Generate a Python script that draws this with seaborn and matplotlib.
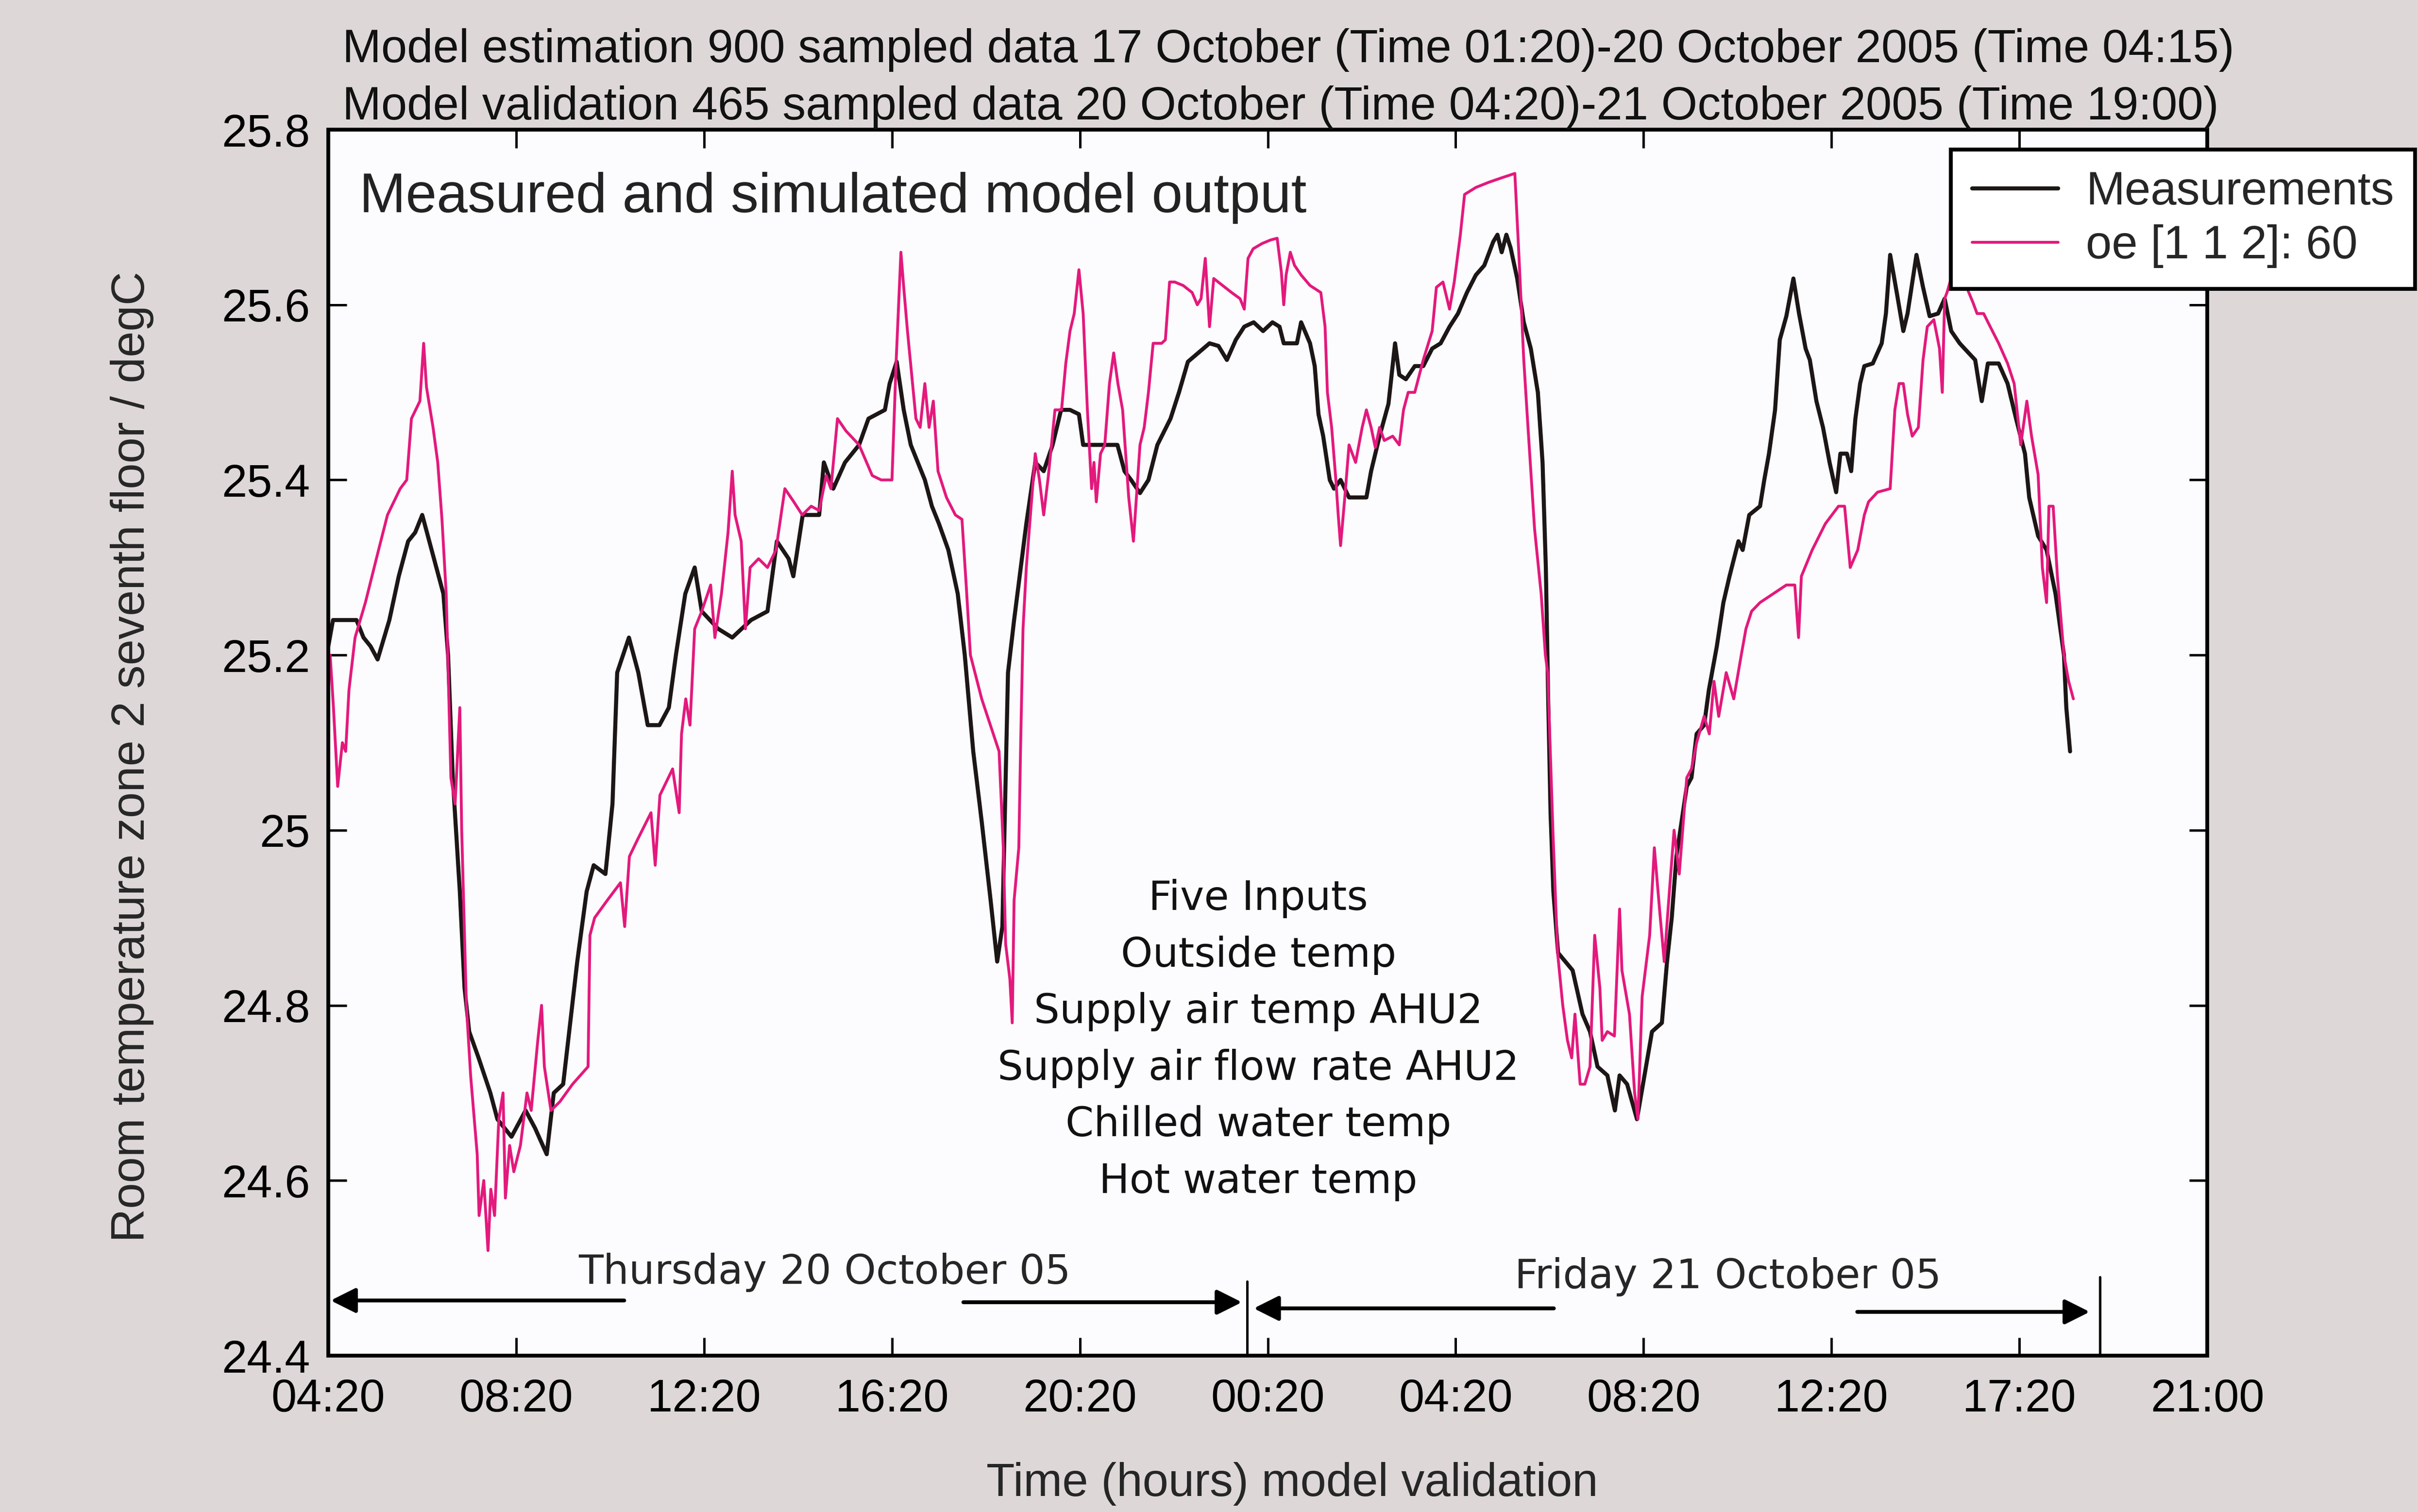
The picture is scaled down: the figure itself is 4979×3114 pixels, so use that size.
import matplotlib
matplotlib.use("Agg")
import matplotlib.pyplot as plt
import pandas as pd
import seaborn as sns

# ---------------- data (hours since 04:20 on 20 Oct, temperature degC) ----------------
meas_t = [0.0, 0.1, 0.3, 0.6, 0.75, 0.9, 1.05, 1.3, 1.5, 1.7, 1.85, 2.0, 2.15, 2.3, 2.45, 2.55, 2.65, 2.8,
          2.9, 3.0, 3.2, 3.45, 3.6, 3.75, 3.9, 4.2, 4.4, 4.65, 4.8, 5.0, 5.15, 5.3, 5.5, 5.65, 5.9, 6.05,
          6.15, 6.4, 6.6, 6.8, 7.05, 7.25, 7.4, 7.6, 7.8, 7.95, 8.3, 8.6, 9.0, 9.35, 9.55, 9.8, 9.9, 10.1,
          10.45, 10.55, 10.75, 11.0, 11.3, 11.5, 11.85, 11.95, 12.1, 12.25, 12.4, 12.7, 12.85, 13.0, 13.2,
          13.4, 13.55, 13.73, 13.91, 14.1, 14.24, 14.35, 14.47, 14.6, 14.86, 15.05, 15.23, 15.42, 15.6,
          15.79, 15.98, 16.07, 16.25, 16.8, 16.95, 17.09, 17.28, 17.46, 17.65, 17.93, 18.11, 18.3, 18.76,
          18.95, 19.13, 19.32, 19.5, 19.7, 19.9, 20.1, 20.25, 20.34, 20.62, 20.71, 20.9, 21.0, 21.08, 21.18,
          21.32, 21.41, 21.55, 21.73, 22.1, 22.2, 22.38, 22.57, 22.71, 22.8, 22.94, 23.13, 23.31, 23.5,
          23.68, 23.87, 24.05, 24.24, 24.43, 24.61, 24.8, 24.89, 24.98, 25.08, 25.17, 25.31, 25.45, 25.6,
          25.75, 25.85, 25.92, 25.97, 26.02, 26.08, 26.18, 26.49, 26.7, 26.86, 27.02, 27.23, 27.39, 27.49,
          27.65, 27.86, 28.02, 28.18, 28.39, 28.5, 28.6, 28.7, 28.81, 28.92, 29.02, 29.13, 29.29, 29.39,
          29.56, 29.7, 29.83, 30.02, 30.11, 30.25, 30.48, 30.57, 30.67, 30.8, 30.9, 31.04, 31.19, 31.31,
          31.45, 31.54, 31.68, 31.82, 31.96, 32.1, 32.19, 32.33, 32.42, 32.51, 32.61, 32.7, 32.88, 33.07,
          33.16, 33.25, 33.39, 33.53, 33.62, 33.81, 33.95, 34.09, 34.27, 34.41, 34.55, 34.73, 34.92, 35.06,
          35.2, 35.33, 35.56, 35.75, 35.93, 36.12, 36.21, 36.4, 36.58, 36.77, 36.95, 37.0, 37.08]
meas_v = [25.21, 25.24, 25.24, 25.24, 25.22, 25.21, 25.195, 25.24, 25.29, 25.33, 25.34, 25.36, 25.33, 25.30,
          25.27, 25.2, 25.06, 24.93, 24.82, 24.77, 24.74, 24.70, 24.67, 24.66, 24.65, 24.68, 24.66, 24.63,
          24.70, 24.71, 24.78, 24.85, 24.93, 24.96, 24.95, 25.03, 25.18, 25.22, 25.18, 25.12, 25.12, 25.14,
          25.2, 25.27, 25.30, 25.25, 25.23, 25.22, 25.24, 25.25, 25.33, 25.31, 25.29, 25.36, 25.36, 25.42,
          25.39, 25.42, 25.44, 25.47, 25.48, 25.51, 25.535, 25.48, 25.44, 25.40, 25.37, 25.35, 25.32, 25.27,
          25.2, 25.09, 25.01, 24.92, 24.85, 24.89, 25.18, 25.24, 25.35, 25.42, 25.41, 25.44, 25.48, 25.48,
          25.475, 25.44, 25.44, 25.44, 25.41, 25.40, 25.385, 25.40, 25.44, 25.47, 25.50, 25.535, 25.556,
          25.553, 25.537, 25.56, 25.575, 25.58, 25.57, 25.58, 25.575, 25.556, 25.556, 25.58, 25.556, 25.53,
          25.475, 25.45, 25.40, 25.39, 25.40, 25.38, 25.38, 25.41, 25.45, 25.487, 25.556, 25.52, 25.515,
          25.53, 25.53, 25.55, 25.556, 25.575, 25.59, 25.614, 25.634, 25.645, 25.672, 25.68, 25.66, 25.68,
          25.665, 25.63, 25.58, 25.55, 25.5, 25.42, 25.3, 25.15, 25.02, 24.93, 24.86, 24.84, 24.79, 24.77,
          24.73, 24.72, 24.68, 24.72, 24.71, 24.67, 24.72, 24.77, 24.78, 24.85, 24.9, 24.97, 25.01, 25.05,
          25.06, 25.11, 25.12, 25.16, 25.21, 25.26, 25.29, 25.33, 25.32, 25.36, 25.37, 25.40, 25.43, 25.48,
          25.56, 25.587, 25.63, 25.59, 25.55, 25.537, 25.49, 25.46, 25.42, 25.386, 25.43, 25.43, 25.41,
          25.47, 25.51, 25.53, 25.533, 25.556, 25.59, 25.657, 25.614, 25.57, 25.59, 25.657, 25.62, 25.587,
          25.59, 25.607, 25.57, 25.556, 25.545, 25.537, 25.49, 25.533, 25.533, 25.51, 25.47, 25.43, 25.38,
          25.336, 25.32, 25.27, 25.2, 25.14, 25.09]

model_t = [0.0, 0.04, 0.11, 0.2, 0.3, 0.37, 0.44, 0.57, 0.79, 1.07, 1.26, 1.53, 1.67, 1.77, 1.95, 2.03, 2.09,
           2.23, 2.33, 2.42, 2.51, 2.61, 2.7, 2.8, 2.84, 2.94, 3.03, 3.17, 3.21, 3.31, 3.4, 3.46, 3.54, 3.63,
           3.72, 3.77, 3.86, 3.95, 4.09, 4.23, 4.32, 4.46, 4.54, 4.6, 4.74, 4.93, 5.2, 5.53, 5.57, 5.67, 5.94,
           6.22, 6.31, 6.41, 6.59, 6.87, 6.96, 7.06, 7.33, 7.47, 7.52, 7.61, 7.7, 7.8, 7.95, 8.14, 8.23, 8.37,
           8.51, 8.6, 8.66, 8.79, 8.88, 8.98, 9.16, 9.35, 9.53, 9.72, 9.91, 10.09, 10.28, 10.45, 10.6, 10.7,
           10.84, 11.02, 11.3, 11.58, 11.77, 12.0, 12.09, 12.19, 12.25, 12.33, 12.42, 12.51, 12.6, 12.7, 12.79,
           12.88, 12.98, 13.16, 13.35, 13.49, 13.58, 13.67, 13.91, 14.28, 14.37, 14.42, 14.51, 14.56, 14.6,
           14.7, 14.74, 14.79, 14.86, 15.05, 15.14, 15.23, 15.33, 15.47, 15.61, 15.7, 15.79, 15.88, 15.98,
           16.07, 16.16, 16.25, 16.3, 16.35, 16.44, 16.53, 16.63, 16.72, 16.81, 16.91, 17.04, 17.14, 17.28,
           17.37, 17.46, 17.56, 17.74, 17.82, 17.91, 18.02, 18.2, 18.39, 18.5, 18.58, 18.67, 18.76, 18.85,
           19.04, 19.23, 19.41, 19.5, 19.58, 19.69, 19.88, 20.06, 20.2, 20.29, 20.34, 20.39, 20.48, 20.57,
           20.71, 20.9, 21.13, 21.22, 21.27, 21.36, 21.45, 21.5, 21.55, 21.64, 21.73, 21.87, 22.01, 22.1,
           22.2, 22.29, 22.38, 22.48, 22.66, 22.8, 22.89, 22.99, 23.13, 23.31, 23.5, 23.59, 23.73, 23.87,
           23.97, 24.1, 24.19, 24.43, 24.71, 24.98, 25.26, 25.35, 25.45, 25.54, 25.68, 25.82, 25.91, 25.96,
           26.07, 26.17, 26.28, 26.38, 26.47, 26.54, 26.65, 26.75, 26.86, 26.96, 27.07, 27.12, 27.23, 27.38,
           27.49, 27.54, 27.7, 27.81, 27.88, 27.97, 28.13, 28.23, 28.34, 28.44, 28.55, 28.65, 28.76, 28.92,
           29.02, 29.13, 29.29, 29.4, 29.5, 29.6, 29.76, 29.92, 30.08, 30.18, 30.3, 30.48, 30.76, 31.04,
           31.22, 31.3, 31.36, 31.59, 31.87, 32.15, 32.28, 32.4, 32.56, 32.7, 32.79, 32.98, 33.25, 33.35,
           33.44, 33.53, 33.62, 33.72, 33.85, 33.95, 34.04, 34.18, 34.3, 34.36, 34.41, 34.46, 34.6, 34.8,
           35.01, 35.1, 35.24, 35.38, 35.56, 35.75, 35.89, 36.03, 36.16, 36.26, 36.4, 36.49, 36.58, 36.63,
           36.72, 36.81, 36.95, 37.05, 37.15]
model_v = [25.2, 25.2, 25.14, 25.05, 25.1, 25.09, 25.16, 25.22, 25.26, 25.32, 25.36, 25.39, 25.4, 25.47, 25.49,
           25.556, 25.506, 25.46, 25.42, 25.355, 25.27, 25.06, 25.03, 25.14, 25.0, 24.8, 24.72, 24.63, 24.56,
           24.6, 24.52, 24.59, 24.56, 24.67, 24.7, 24.58, 24.64, 24.61, 24.64, 24.7, 24.68, 24.76, 24.8, 24.73,
           24.68, 24.69, 24.71, 24.73, 24.88, 24.9, 24.92, 24.94, 24.89, 24.97, 24.99, 25.02, 24.96, 25.04,
           25.07, 25.02, 25.11, 25.15, 25.12, 25.23, 25.25, 25.28, 25.22, 25.27, 25.34, 25.41, 25.36, 25.33,
           25.23, 25.3, 25.31, 25.3, 25.32, 25.39, 25.375, 25.36, 25.37, 25.365, 25.405, 25.39, 25.47, 25.456,
           25.44, 25.405, 25.4, 25.4, 25.537, 25.66, 25.62, 25.57, 25.52, 25.47, 25.46, 25.51, 25.46, 25.49,
           25.41, 25.38, 25.36, 25.355, 25.28, 25.2, 25.15, 25.09, 24.98, 24.87, 24.83, 24.78, 24.92, 24.98,
           25.1, 25.23, 25.3, 25.43, 25.4, 25.36, 25.405, 25.48, 25.48, 25.533, 25.57, 25.59, 25.64, 25.59,
           25.48, 25.39, 25.42, 25.375, 25.43, 25.44, 25.51, 25.545, 25.51, 25.48, 25.38, 25.33, 25.44, 25.46,
           25.5, 25.556, 25.556, 25.56, 25.626, 25.626, 25.622, 25.614, 25.6, 25.607, 25.653, 25.575, 25.63,
           25.622, 25.614, 25.607, 25.595, 25.653, 25.664, 25.67, 25.674, 25.676, 25.637, 25.6, 25.634, 25.66,
           25.645, 25.634, 25.622, 25.614, 25.575, 25.5, 25.46, 25.4, 25.36, 25.325, 25.38, 25.44, 25.42,
           25.46, 25.48, 25.46, 25.437, 25.46, 25.445, 25.45, 25.44, 25.48, 25.5, 25.5, 25.537, 25.57, 25.62,
           25.626, 25.595, 25.626, 25.68, 25.726, 25.734, 25.74, 25.745, 25.75, 25.653, 25.537, 25.46, 25.344,
           25.27, 25.2, 25.18, 25.0, 24.86, 24.8, 24.76, 24.74, 24.79, 24.71, 24.71, 24.73, 24.88, 24.82,
           24.76, 24.77, 24.765, 24.91, 24.84, 24.79, 24.7, 24.67, 24.81, 24.88, 24.98, 24.91, 24.85, 24.93,
           25.0, 24.95, 25.06, 25.07, 25.1, 25.13, 25.11, 25.17, 25.13, 25.18, 25.15, 25.2, 25.23, 25.25,
           25.26, 25.27, 25.28, 25.28, 25.22, 25.29, 25.32, 25.35, 25.37, 25.37, 25.3, 25.32, 25.36, 25.375,
           25.386, 25.39, 25.48, 25.51, 25.51, 25.475, 25.45, 25.46, 25.537, 25.575, 25.583, 25.55, 25.5,
           25.607, 25.614, 25.64, 25.63, 25.603, 25.59, 25.59, 25.575, 25.556, 25.533, 25.51, 25.44, 25.49,
           25.45, 25.406, 25.3, 25.26, 25.37, 25.37, 25.29, 25.2, 25.17, 25.15]

x_ticks = [0, 4, 8, 12, 16, 20, 24, 28, 32, 36, 40]
x_tick_labels = ["04:20", "08:20", "12:20", "16:20", "20:20", "00:20", "04:20", "08:20", "12:20", "17:20", "21:00"]
y_ticks = [24.4, 24.6, 24.8, 25.0, 25.2, 25.4, 25.6, 25.8]
y_tick_labels = ["24.4", "24.6", "24.8", "25", "25.2", "25.4", "25.6", "25.8"]
series_names = ["Measurements", "oe [1 1 2]: 60"]
input_lines = ["Five Inputs", "Outside temp", "Supply air temp AHU2", "Supply air flow rate AHU2",
               "Chilled water temp", "Hot water temp"]
title_lines = ["Model estimation 900 sampled data 17 October (Time 01:20)-20 October 2005 (Time 04:15)",
               "Model validation 465 sampled data 20 October (Time 04:20)-21 October 2005 (Time 19:00)"]
day_labels = ["Thursday 20 October 05", "Friday 21 October 05"]

# ---------------- style ----------------
sns.set_theme(style="ticks")
plt.rcParams["font.family"] = ["Liberation Sans", "DejaVu Sans"]

W, H, DPI = 4979, 3114, 300
fig = plt.figure(figsize=(W / DPI, H / DPI), dpi=DPI, facecolor="#ddd7d7")
ax = fig.add_axes([676 / W, 1 - 2792 / H, (4545 - 676) / W, (2792 - 267) / H])
ax.set_facecolor("#fcfcfe")

BLACK = "#1c1616"
PINK = "#e3197c"

df_meas = pd.DataFrame({"t": meas_t, "v": meas_v})
df_model = pd.DataFrame({"t": model_t, "v": model_v})
sns.lineplot(data=df_meas, x="t", y="v", ax=ax, color=BLACK, lw=2.0, label=series_names[0],
             estimator=None, sort=False)
sns.lineplot(data=df_model, x="t", y="v", ax=ax, color=PINK, lw=1.4, label=series_names[1],
             estimator=None, sort=False)

ax.set_xlim(0, 40)
ax.set_ylim(24.4, 25.8)
ax.set_xticks(x_ticks)
ax.set_xticklabels(x_tick_labels)
ax.set_yticks(y_ticks)
ax.set_yticklabels(y_tick_labels)
ax.set_xlabel("")
ax.set_ylabel("")
ax.tick_params(direction="in", length=9, width=1.2, top=True, right=True,
               labelsize=22.5, pad=9, colors="black")
ax.tick_params(axis="x", pad=11)
for s in ax.spines.values():
    s.set_color("black")
    s.set_linewidth(1.9)

# titles and axis labels
fig.text(705 / W, 1 - 103 / H, title_lines[0], fontsize=23, va="center", ha="left", color="#111111")
fig.text(705 / W, 1 - 221 / H, title_lines[1], fontsize=23, va="center", ha="left", color="#111111")
fig.text(2661 / W, 1 - 3056 / H, "Time (hours) model validation", fontsize=23, va="center", ha="center")
fig.text(272 / W, 1 - 1559 / H, "Room temperature zone 2 seventh floor / degC", fontsize=23,
         va="center", ha="center", rotation=90)

ax.text(0.66, 25.722, "Measured and simulated model output", fontsize=27.5, va="center", ha="left",
        color="#222222")

# input list
for i, line in enumerate(input_lines):
    ax.text(19.8, 24.922 - i * 0.0646, line, fontsize=20, family="DejaVu Sans",
            ha="center", va="center", color="#111111")

# day markers
ax.text(10.57, 24.495, day_labels[0], fontsize=20, family="DejaVu Sans", ha="center", va="center")
ax.text(29.8, 24.49, day_labels[1], fontsize=20, family="DejaVu Sans", ha="center", va="center")
arrow_kw = dict(arrowstyle="-|>", color="black", lw=1.9, mutation_scale=26, shrinkA=0, shrinkB=0)
for (x0, x1, yy) in [(6.3, 0.05, 24.463), (13.52, 19.45, 24.461), (26.09, 19.7, 24.454), (32.55, 37.5, 24.45)]:
    ax.annotate("", xy=(x1, yy), xytext=(x0, yy), arrowprops=arrow_kw)
for xv, ytop in [(19.56, 24.485), (37.72, 24.49)]:
    ax.plot([xv, xv], [24.4, ytop], color="black", lw=1.2)

# legend
leg = ax.legend(loc="upper right", bbox_to_anchor=(0.9988, 0.9011), bbox_transform=fig.transFigure,
                fontsize=23, frameon=True, fancybox=False, edgecolor="black", framealpha=1,
                borderpad=0.45, labelspacing=0.22, handlelength=1.85, handletextpad=0.6,
                borderaxespad=0)
leg.get_frame().set_linewidth(1.9)
leg.get_frame().set_facecolor("white")

fig.savefig("out.png", dpi=DPI, facecolor=fig.get_facecolor())
